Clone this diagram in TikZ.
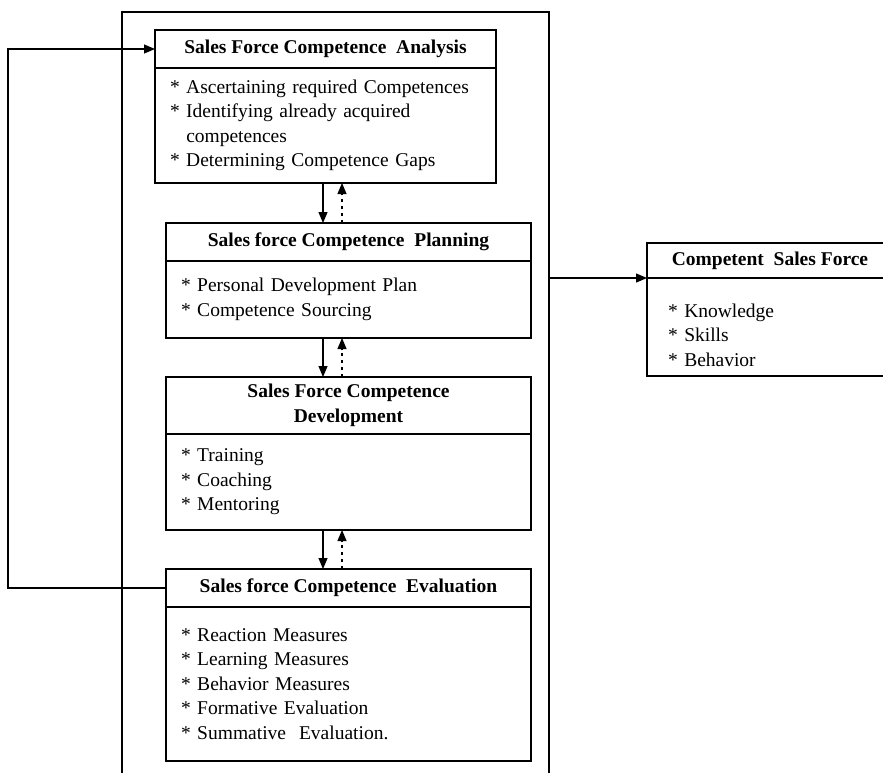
\documentclass[tikz,border=0pt]{standalone}
\usepackage{fontspec}
\setmainfont{Liberation Serif}
\usetikzlibrary{positioning,arrows.meta}
\tikzset{
  box/.style={draw, line width=1.2pt, inner sep=0pt, outer sep=0pt},
  head/.style={box, anchor=north west, align=center,
    font=\bfseries\fontsize{19.5}{24.5}\selectfont},
  body/.style={box, align=left, inner xsep=15pt,
    font=\fontsize{19.5}{24.5}\selectfont},
  arr/.style={line width=1.2pt, -{Triangle[length=11pt,width=9pt]}},
  back/.style={arr, dash pattern=on 3pt off 4pt}
}

\begin{document}
\begin{tikzpicture}[x=1pt, y=-1pt]
	\useasboundingbox (0,0) rectangle (883,772);
	\node [box, anchor=north west, minimum width=427pt, minimum height=800pt] (frame) at (122,12) {};
	\coordinate (dn) at (323,0);
	\coordinate (up) at (342,0);
	\coordinate (loop) at (8,0);

	\node [head, minimum width=341pt, minimum height=38pt] (anahead) at (155,30) {Sales Force Competence\ \ Analysis};
	\node [body, below=0pt of anahead, text width=311pt, minimum height=115pt] (anabody) {{*} Ascertaining required Competences\\{*} Identifying already acquired\\\phantom{*}\ competences\\{*} Determining Competence Gaps};

	\node [head, minimum width=365pt, minimum height=38pt] (planhead) at (166,223) {Sales force Competence\ \ Planning};
	\node [body, below=0pt of planhead, text width=335pt, minimum height=77pt] (planbody) {{*} Personal Development Plan\\{*} Competence Sourcing};

	\node [head, minimum width=365pt, minimum height=57pt] (devhead) at (166,377) {Sales Force Competence\\Development};
	\node [body, below=0pt of devhead, text width=335pt, minimum height=96pt] (devbody) {{*} Training\\{*} Coaching\\{*} Mentoring};

	\node [head, minimum width=365pt, minimum height=38pt] (evalhead) at (166,569) {Sales force Competence\ \ Evaluation};
	\node [body, below=0pt of evalhead, text width=335pt, minimum height=154pt] (evalbody) {{*} Reaction Measures\\{*} Learning Measures\\{*} Behavior Measures\\{*} Formative Evaluation\\{*} Summative\ \ Evaluation.};

	\node [head, minimum width=246pt, minimum height=35pt] (comphead) at (647,243) {Competent\ \ Sales Force};
	\node [body, below=0pt of comphead, inner xsep=21pt, text width=204pt, minimum height=98pt] (compbody) {\rule{0pt}{30pt}{*} Knowledge\\{*} Skills\\{*} Behavior};

	% down the chain and back up
	\draw[arr] (anabody.south -| dn) -- (planhead.north -| dn);
	\draw[back] (planhead.north -| up) -- (anabody.south -| up);
	\draw[arr] (planbody.south -| dn) -- (devhead.north -| dn);
	\draw[back] (devhead.north -| up) -- (planbody.south -| up);
	\draw[arr] (devbody.south -| dn) -- (evalhead.north -| dn);
	\draw[back] (evalhead.north -| up) -- (devbody.south -| up);

	% feedback loop and output
	\draw[arr] (evalhead.west) -- (evalhead.west -| loop) |- (anahead.west);
	\draw[arr] (comphead.south west -| frame.east) -- (comphead.south west);
\end{tikzpicture}
\end{document}
